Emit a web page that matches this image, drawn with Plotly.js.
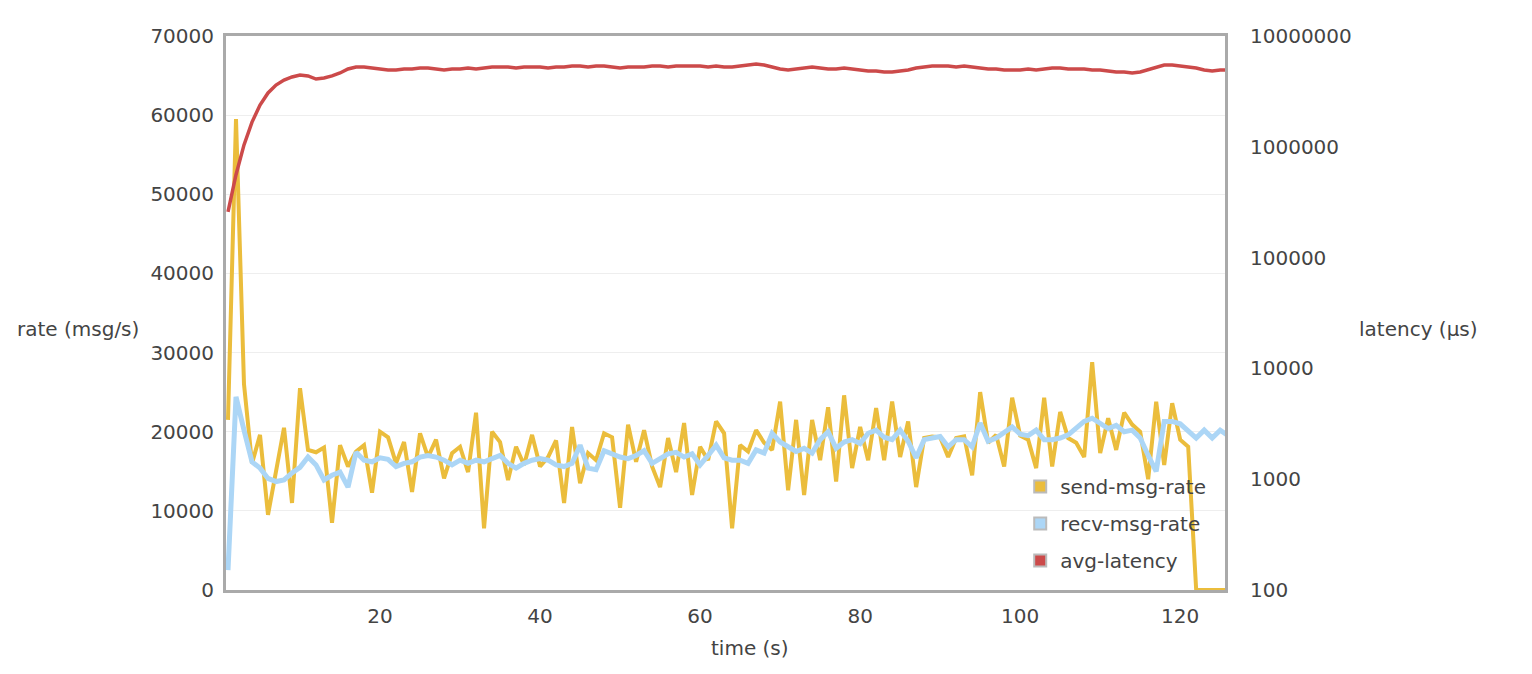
<!DOCTYPE html>
<html>
<head>
<meta charset="utf-8">
<script src="https://cdn.plot.ly/plotly-3.0.1.min.js"></script>
<style>html,body{margin:0;padding:0;background:#fff;}#chart{width:1532px;height:674px;}</style>
</head>
<body>
<div id="chart"></div>
<script>
const seriesNames = ["send-msg-rate", "recv-msg-rate", "avg-latency"];
const seriesColors = ["#ebbd3c", "#acd6f6", "#cc4a4a"];

const time = [1,2,3,4,5,6,7,8,9,10,11,12,13,14,15,16,17,18,19,20,21,22,23,24,25,26,27,28,29,30,31,32,33,34,35,36,37,38,39,40,41,42,43,44,45,46,47,48,49,50,51,52,53,54,55,56,57,58,59,60,61,62,63,64,65,66,67,68,69,70,71,72,73,74,75,76,77,78,79,80,81,82,83,84,85,86,87,88,89,90,91,92,93,94,95,96,97,98,99,100,101,102,103,104,105,106,107,108,109,110,111,112,113,114,115,116,117,118,119,120,121,122,123,124,125,126];

const sendRate = [21500,59500,26000,16000,19600,9500,15000,20500,11000,25500,
17700,17400,18000,8500,18300,15600,17500,18300,12300,20000,
19300,16000,18700,12400,19800,16800,19000,14100,17300,18100,
14900,22400,7800,20000,18700,13900,18100,15800,19600,15600,
16800,18900,11000,20600,13500,17300,16400,19800,19300,10400,
20900,16200,20200,15600,13000,19200,14900,21100,12000,18100,
16400,21300,19800,7800,18300,17500,20200,18600,17700,23800,
12600,21500,12000,21500,16400,23100,13700,24600,15400,20600,
16400,23000,16400,23800,16800,21300,13000,19200,19400,19300,
16800,19200,19400,14500,25000,18600,19600,15600,24300,19500,
19000,15400,24300,15600,22500,19200,18600,16800,28800,17300,
21700,17700,22400,20900,20000,14000,23800,15800,23600,19000,
18100,0,0,0,0,0];

const recvRate = [2500,24400,20200,16200,15400,14100,13700,13900,14800,15500,
16800,15800,13900,14500,14900,13000,17400,16400,16200,16700,
16500,15600,16000,16200,16800,17000,16800,16400,15800,16400,
16000,16400,16200,16600,17000,16000,15400,16000,16400,16600,
16400,15800,15600,16000,18300,15400,15200,17600,17200,16800,
16600,17000,17600,16000,16600,17200,17400,16800,17200,15800,
17000,18300,16700,16400,16400,16000,17700,17300,19800,18700,
18100,17500,17900,17300,19000,20000,17900,18700,19000,18500,
19800,20200,19300,19000,20200,18800,16700,19000,19200,19400,
18100,19000,19000,18100,21100,18800,19200,20000,20600,19700,
19500,20200,19000,19000,19200,19600,20500,21300,21700,21000,
20400,20800,20000,20200,19200,17000,15000,21300,21300,21000,
20200,19200,20200,19200,20200,19500];

const avgLatency = [258000,560000,1040000,1670000,2380000,3060000,3610000,4000000,4270000,4450000,
4360000,4090000,4180000,4360000,4640000,5040000,5250000,5250000,5140000,5040000,
4940000,4940000,5040000,5040000,5140000,5140000,5040000,4940000,5040000,5040000,
5140000,5040000,5140000,5250000,5250000,5250000,5140000,5250000,5250000,5250000,
5140000,5250000,5250000,5360000,5360000,5250000,5360000,5360000,5250000,5140000,
5250000,5250000,5250000,5360000,5360000,5250000,5360000,5360000,5360000,5360000,
5250000,5360000,5250000,5250000,5360000,5470000,5580000,5470000,5250000,5040000,
4940000,5040000,5140000,5250000,5140000,5040000,5040000,5140000,5040000,4940000,
4830000,4830000,4730000,4730000,4830000,4940000,5140000,5250000,5360000,5360000,
5360000,5250000,5360000,5250000,5140000,5040000,5040000,4940000,4940000,4940000,
5040000,4940000,5040000,5140000,5140000,5040000,5040000,5040000,4940000,4940000,
4830000,4730000,4730000,4640000,4730000,4940000,5250000,5470000,5470000,5360000,
5250000,5140000,4940000,4830000,4940000,4940000];

const xTicks = [20,40,60,80,100,120];
const rateTicks = [0,10000,20000,30000,40000,50000,60000,70000];
const rateTickText = ["0","10000","20000","30000","40000","50000","60000","70000"];
const latencyTicks = [100,1000,10000,100000,1000000,10000000];
const latencyTickText = ["100","1000","10000","100000","1000000","10000000"];

const FONT = "DejaVu Sans, Verdana, sans-serif";
const TXT = "#444";
const FS = 20;

const traces = [
  {x: time, y: sendRate, type: "scatter", mode: "lines", name: seriesNames[0],
   line: {color: seriesColors[0], width: 4}, showlegend: false, hoverinfo: "skip"},
  {x: time, y: recvRate, type: "scatter", mode: "lines", name: seriesNames[1],
   line: {color: seriesColors[1], width: 5}, showlegend: false, hoverinfo: "skip"},
  {x: time, y: avgLatency, type: "scatter", mode: "lines", name: seriesNames[2], yaxis: "y2",
   line: {color: seriesColors[2], width: 3.5}, showlegend: false, hoverinfo: "skip"}
];
// legend-only swatches (zero-height bars placed outside the visible x range)
seriesNames.forEach((n, i) => {
  traces.push({x: [-100], y: [0], type: "bar", name: n, legendgroup: "g" + i,
    marker: {color: seriesColors[i], line: {color: "#bbbbbb", width: 2}}, showlegend: true, hoverinfo: "skip"});
});

const layout = {
  width: 1532, height: 674,
  margin: {l: 226, r: 307, t: 36, b: 84},
  paper_bgcolor: "#fff", plot_bgcolor: "#fff",
  font: {family: FONT, size: FS, color: TXT},
  showlegend: true,
  legend: {x: 0.795, y: 0.222, xanchor: "left", yanchor: "top", bgcolor: "rgba(0,0,0,0)",
    font: {family: FONT, size: FS, color: TXT}, tracegroupgap: 8, traceorder: "grouped"},
  xaxis: {range: [0.75, 125.6], tickvals: xTicks, showgrid: false, zeroline: false,
    showline: true, mirror: true, linecolor: "#aaaaaa", linewidth: 3,
    ticks: "outside", ticklen: 6, tickcolor: "rgba(0,0,0,0)",
    tickfont: {family: FONT, size: FS, color: TXT}},
  yaxis: {range: [0, 70000], tickvals: rateTicks, ticktext: rateTickText, showgrid: true, gridcolor: "#eeeeee", gridwidth: 1,
    zeroline: false, showline: true, mirror: true, linecolor: "#aaaaaa", linewidth: 3,
    ticks: "outside", ticklen: 5, tickcolor: "rgba(0,0,0,0)",
    tickfont: {family: FONT, size: FS, color: TXT}},
  yaxis2: {type: "log", range: [2, 7], overlaying: "y", side: "right", tickvals: latencyTicks,
    ticktext: latencyTickText, showgrid: false, zeroline: false, showline: false,
    ticks: "outside", ticklen: 20, tickcolor: "rgba(0,0,0,0)",
    tickfont: {family: FONT, size: FS, color: TXT}},
  annotations: [
    {text: "rate (msg/s)", xref: "paper", yref: "paper", x: -0.148, y: 0.471, xanchor: "center", yanchor: "middle",
     showarrow: false, font: {family: FONT, size: FS, color: TXT}},
    {text: "latency (μs)", xref: "paper", yref: "paper", x: 1.194, y: 0.471, xanchor: "center", yanchor: "middle",
     showarrow: false, font: {family: FONT, size: FS, color: TXT}},
    {text: "time (s)", xref: "paper", yref: "paper", x: 0.5245, y: -0.105, xanchor: "center", yanchor: "middle",
     showarrow: false, font: {family: FONT, size: FS, color: TXT}}
  ]
};

Plotly.newPlot("chart", traces, layout, {displayModeBar: false, staticPlot: true});
</script>
</body>
</html>
